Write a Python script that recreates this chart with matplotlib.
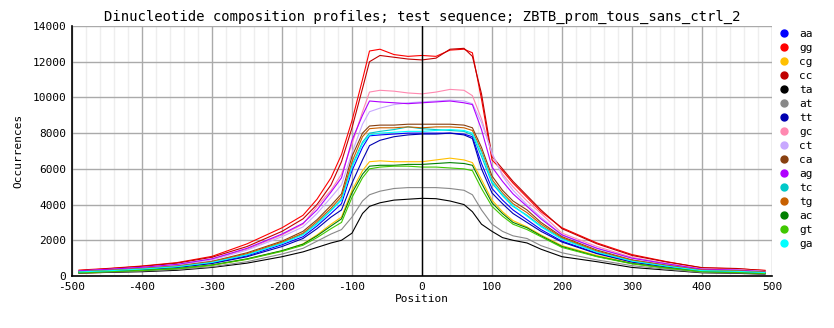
import numpy as np
import matplotlib
matplotlib.use("Agg")
import matplotlib.pyplot as plt
from matplotlib.lines import Line2D

plt.rcParams['font.family'] = ['DejaVu Sans Mono', 'DejaVu Sans']
plt.rcParams['axes.unicode_minus'] = False

# positions sampled along the profile
pos = [-490, -450, -400, -350, -300, -250, -200, -170, -150, -130, -115, -100, -85, -75,
       -60, -40, -20, 0, 20, 40, 60, 72, 85, 100, 115, 130, 150, 170, 200, 250, 300,
       350, 400, 450, 490]

aa = [220, 280, 370, 500, 730, 1130, 1750, 2200, 2800, 3500, 4050, 5900, 7200, 7850,
      7900, 7950, 8000, 8000, 8000, 8000, 7950, 7800, 6300, 4900, 4250, 3700, 3150, 2600,
      1950, 1280, 800, 530, 290, 250, 180]
gg = [330, 420, 560, 750, 1100, 1800, 2700, 3400, 4300, 5500, 6800, 8700, 11000, 12600,
      12700, 12400, 12300, 12350, 12300, 12650, 12700, 12500, 9900, 6500, 5900, 5200, 4400,
      3600, 2700, 1850, 1200, 800, 450, 400, 320]
cg = [150, 210, 300, 400, 600, 950, 1400, 1800, 2300, 2900, 3300, 4800, 5900, 6400,
      6450, 6400, 6400, 6400, 6500, 6600, 6500, 6350, 5400, 4250, 3600, 3100, 2750, 2300,
      1700, 1150, 720, 470, 260, 220, 150]
cc = [300, 400, 540, 720, 1050, 1650, 2500, 3200, 4000, 5100, 6400, 8300, 10500, 12000,
      12350, 12250, 12150, 12100, 12200, 12700, 12750, 12300, 10200, 6700, 6000, 5300, 4500,
      3700, 2650, 1800, 1150, 780, 470, 420, 300]
ta = [160, 200, 240, 320, 480, 720, 1080, 1350, 1600, 1850, 2000, 2400, 3500, 3900,
      4100, 4250, 4300, 4350, 4330, 4200, 4000, 3600, 2900, 2500, 2150, 2000, 1850, 1500,
      1080, 800, 480, 330, 180, 150, 100]
at = [170, 220, 280, 370, 520, 800, 1230, 1550, 1950, 2350, 2600, 3300, 4200, 4550,
      4750, 4900, 4950, 4950, 4950, 4900, 4800, 4550, 3700, 2900, 2500, 2250, 2100, 1700,
      1300, 900, 580, 380, 200, 170, 110]
tt = [210, 270, 360, 480, 700, 1080, 1650, 2100, 2650, 3300, 3700, 5200, 6500, 7300,
      7600, 7800, 7900, 7950, 7950, 8000, 7900, 7700, 6000, 4650, 4050, 3500, 3000, 2500,
      1900, 1250, 780, 510, 280, 240, 170]
gc = [280, 360, 480, 640, 950, 1500, 2300, 2900, 3900, 4800, 5700, 7400, 9200, 10300,
      10400, 10350, 10250, 10200, 10300, 10450, 10400, 10100, 8800, 6800, 5700, 5000, 4200,
      3500, 2400, 1650, 1050, 700, 400, 360, 260]
ct = [270, 350, 460, 620, 900, 1450, 2200, 2750, 3500, 4400, 5100, 6900, 8500, 9200,
      9400, 9600, 9700, 9750, 9800, 9850, 9800, 9650, 8600, 6900, 5600, 4800, 4000, 3300,
      2300, 1550, 1000, 660, 380, 340, 250]
ca = [250, 320, 420, 560, 820, 1300, 1950, 2500, 3150, 3950, 4600, 6700, 8000, 8400,
      8450, 8450, 8500, 8500, 8500, 8500, 8450, 8300, 7200, 5600, 4800, 4200, 3700, 3000,
      2200, 1450, 900, 600, 340, 300, 200]
ag = [290, 370, 490, 650, 960, 1550, 2350, 2950, 3700, 4700, 5500, 7600, 9000, 9800,
      9750, 9700, 9650, 9700, 9750, 9800, 9700, 9600, 8200, 6100, 5300, 4600, 3900, 3200,
      2300, 1550, 1000, 680, 380, 330, 240]
tc = [240, 300, 400, 530, 780, 1200, 1850, 2350, 2950, 3700, 4300, 6200, 7500, 8000,
      8100, 8200, 8350, 8250, 8200, 8150, 8100, 7900, 6700, 5200, 4500, 3900, 3400, 2800,
      2100, 1350, 850, 560, 310, 270, 200]
tg = [240, 310, 410, 540, 800, 1250, 1900, 2400, 3050, 3800, 4450, 6400, 7800, 8250,
      8300, 8300, 8350, 8300, 8350, 8350, 8300, 8150, 7000, 5400, 4650, 4050, 3550, 2900,
      2150, 1400, 880, 580, 330, 290, 220]
ac = [190, 250, 320, 420, 620, 960, 1420, 1780, 2250, 2800, 3200, 4650, 5700, 6150,
      6200, 6200, 6250, 6250, 6300, 6350, 6300, 6200, 5200, 4100, 3500, 3000, 2700, 2250,
      1650, 1100, 700, 450, 250, 200, 140]
gt = [180, 240, 310, 410, 600, 930, 1380, 1720, 2150, 2650, 3000, 4400, 5500, 6000,
      6100, 6150, 6150, 6100, 6100, 6050, 6000, 5900, 4900, 3900, 3350, 2900, 2600, 2200,
      1600, 1080, 680, 440, 240, 200, 140]
ga = [230, 290, 390, 520, 760, 1180, 1820, 2300, 2900, 3650, 4250, 6100, 7400, 7900,
      8000, 8050, 8100, 8100, 8150, 8200, 8150, 8000, 6900, 5300, 4550, 3950, 3350, 2750,
      2050, 1330, 830, 550, 300, 260, 190]

names = ['aa', 'gg', 'cg', 'cc', 'ta', 'at', 'tt', 'gc', 'ct', 'ca', 'ag', 'tc', 'tg', 'ac', 'gt', 'ga']
series = [aa, gg, cg, cc, ta, at, tt, gc, ct, ca, ag, tc, tg, ac, gt, ga]
colors = ['#0000ff', '#ff0000', '#ffc000', '#c00000', '#000000', '#888888', '#0000b0', '#ff88b0',
          '#c8a8ff', '#884010', '#b000ff', '#00c8c8', '#c86000', '#008000', '#40c800', '#00ffff']

fig = plt.figure(figsize=(8.34, 3.28), dpi=100)
ax = fig.add_axes([72/834, 1-276/328, 700/834, 250/328])

for y, c in zip(series, colors):
    ax.plot(pos, y, color=c, lw=0.8)

ax.axvline(0, color='black', lw=1)

ax.set_xlim(-500, 500)
ax.set_ylim(0, 14000)
ax.set_xticks(np.arange(-500, 501, 100))
ax.set_xticks(np.arange(-500, 501, 20), minor=True)
ax.set_yticks(np.arange(0, 14001, 2000))
ax.grid(which='major', color='#aaaaaa', lw=1)
ax.grid(which='minor', axis='x', color='#eeeeee', lw=1)
ax.set_axisbelow(True)
ax.tick_params(which='both', length=0, labelsize=8, pad=4)
for s in ['top', 'right']:
    ax.spines[s].set_visible(False)
for s in ['left', 'bottom']:
    ax.spines[s].set_linewidth(1.2)

ax.set_title('Dinucleotide composition profiles; test sequence; ZBTB_prom_tous_sans_ctrl_2',
             fontsize=10, pad=4)
ax.set_xlabel('Position', fontsize=8, labelpad=2)
ax.set_ylabel('Occurrences', fontsize=8, labelpad=7)

handles = [Line2D([], [], ls='none', marker='o', ms=5, color=c) for c in colors]
fig.legend(handles, names, loc='upper left', bbox_to_anchor=(780/834, 1-29/328),
           frameon=False, fontsize=8, handlelength=0.8, handletextpad=0.9,
           labelspacing=0.36, borderaxespad=0, borderpad=0)

fig.savefig('out.png', dpi=100)
